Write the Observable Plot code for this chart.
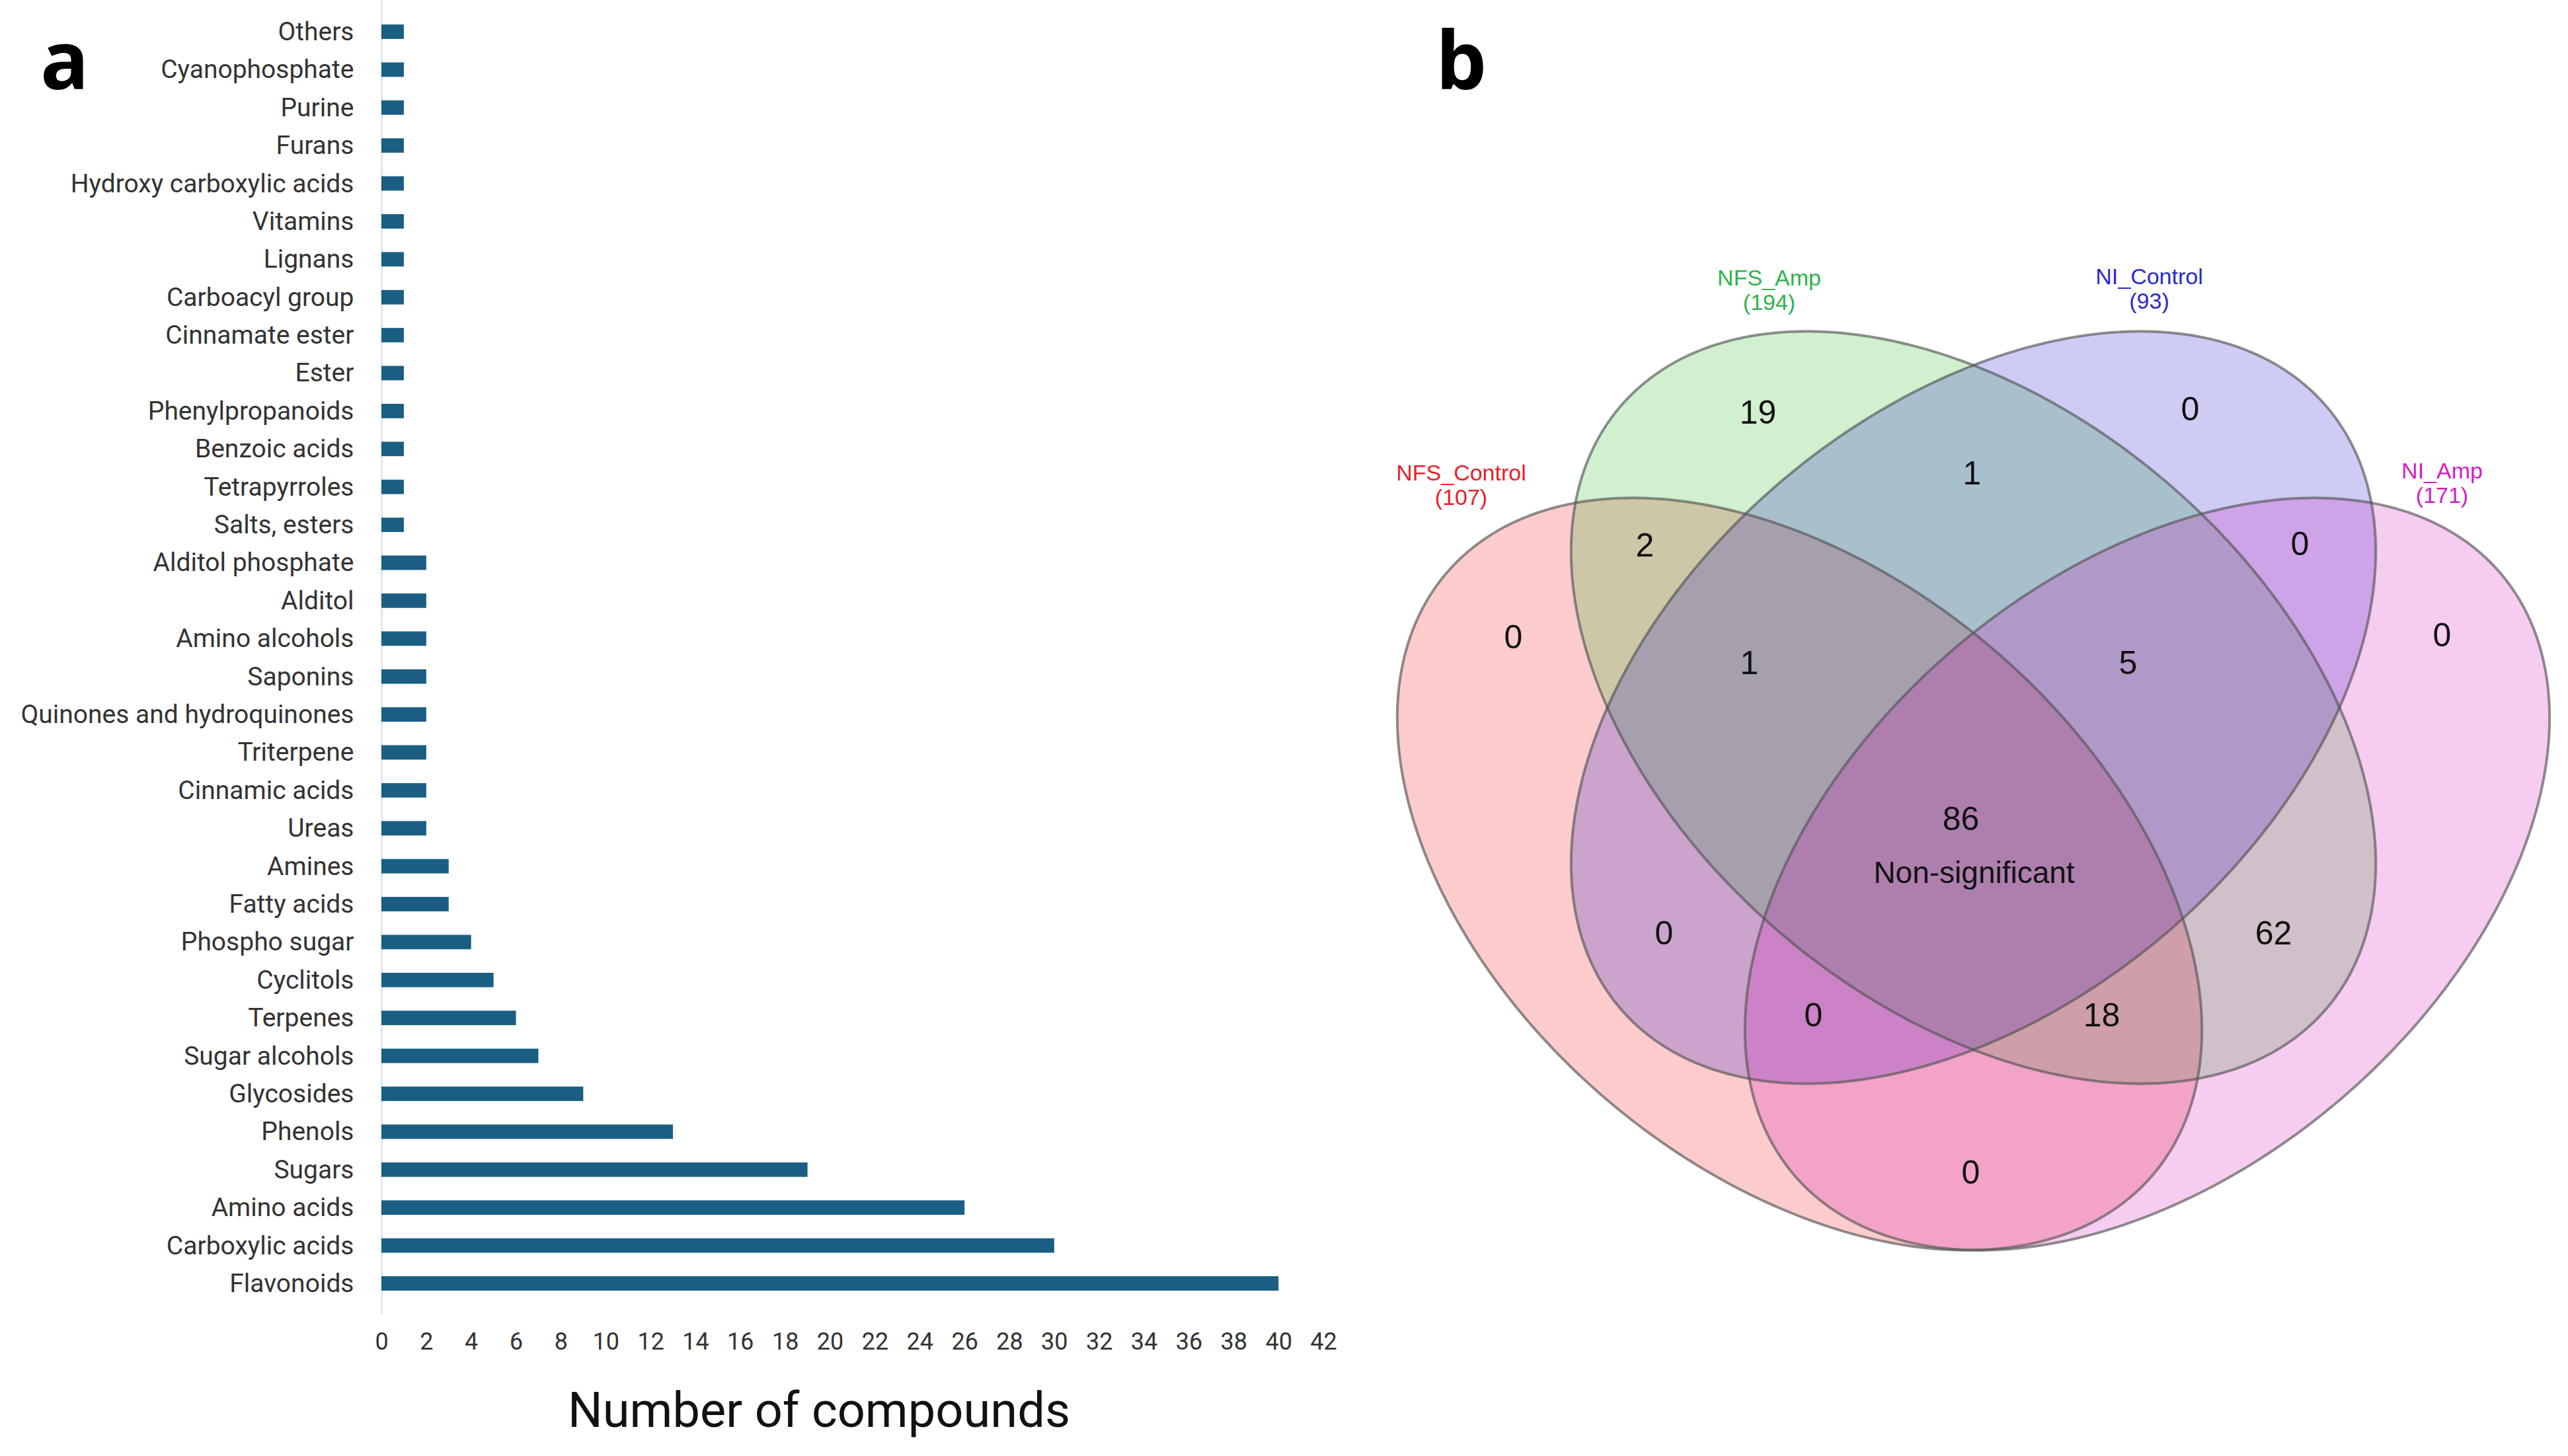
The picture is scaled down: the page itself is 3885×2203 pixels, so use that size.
<!DOCTYPE html>
<html>
<head>
<meta charset="utf-8">
<script src="https://cdn.jsdelivr.net/npm/d3@7"></script>
<script src="https://cdn.jsdelivr.net/npm/@observablehq/plot@0.6"></script>
<style>
  body { margin: 0; background: #fff; }
  #root { position: relative; width: 3885px; height: 2203px; overflow: hidden; background: #fff; font-family: Roboto, sans-serif; }
  .letter { position: absolute; font-family: "Open Sans", Roboto, sans-serif; font-weight: 700; font-size: 122px; line-height: 122px; color: #000; }
  #la { left: 61px; top: 27px; }
  #lb { left: 2172px; top: 27px; }
  #bars, #venn { position: absolute; top: 0; }
  #bars { left: 0; }
  #venn { left: 2050px; }
</style>
</head>
<body>
<div id="root">
  <div id="bars"></div>
  <div id="venn"></div>
  <div class="letter" id="la">a</div>
  <div class="letter" id="lb">b</div>
</div>
<script>
// ---------- Panel a data ----------
const categories = [
  "Others", "Cyanophosphate", "Purine", "Furans", "Hydroxy carboxylic acids", "Vitamins",
  "Lignans", "Carboacyl group", "Cinnamate ester", "Ester", "Phenylpropanoids", "Benzoic acids",
  "Tetrapyrroles", "Salts, esters", "Alditol phosphate", "Alditol", "Amino alcohols", "Saponins",
  "Quinones and hydroquinones", "Triterpene", "Cinnamic acids", "Ureas", "Amines", "Fatty acids",
  "Phospho sugar", "Cyclitols", "Terpenes", "Sugar alcohols", "Glycosides", "Phenols", "Sugars",
  "Amino acids", "Carboxylic acids", "Flavonoids"
];
const counts = [
  1, 1, 1, 1, 1, 1,
  1, 1, 1, 1, 1, 1,
  1, 1, 2, 2, 2, 2,
  2, 2, 2, 2, 3, 3,
  4, 5, 6, 7, 9, 13, 19,
  26, 30, 40
];
const xTicks = [0, 2, 4, 6, 8, 10, 12, 14, 16, 18, 20, 22, 24, 26, 28, 30, 32, 34, 36, 38, 40, 42];
const xLabel = "Number of compounds";

// ---------- Panel b data ----------
const setNames = ["NFS_Control", "NFS_Amp", "NI_Control", "NI_Amp"];
const setTotals = [107, 194, 93, 171];
const setFillColors = ["rgb(242,0,0)", "rgb(20,180,20)", "rgb(10,0,200)", "rgb(210,0,180)"];
const setLabelColors = ["#e8202a", "#2fb34a", "#2b2bc8", "#d21fc4"];
// ellipse geometry (Venn units, y up)
const ellipseCX = [-0.263, 0.0, 0.0, 0.263];
const ellipseCY = [-0.127, 0.125, 0.125, -0.127];
const ellipseA = [0.702, 0.702, 0.702, 0.702];
const ellipseB = [0.449, 0.449, 0.449, 0.449];
const ellipseAngle = [-40.4, -40.4, 40.4, 40.4];
const setLabelX = [-0.775, -0.309, 0.266, 0.709];
const setLabelY = [0.462, 0.757, 0.759, 0.465];

const regionSets = ["1000", "0100", "0010", "0001", "1100", "0110", "0011", "1110", "0111", "1111", "1010", "0101", "1011", "1101", "1001"];
const regionCounts = [0, 19, 0, 0, 2, 1, 0, 1, 5, 86, 0, 62, 0, 18, 0];
const regionX = [-0.696, -0.326, 0.328, 0.709, -0.497, -0.002, 0.494, -0.339, 0.234, -0.019, -0.468, 0.454, -0.242, 0.194, -0.004];
const regionY = [0.231, 0.571, 0.576, 0.234, 0.370, 0.479, 0.372, 0.192, 0.192, -0.044, -0.217, -0.217, -0.341, -0.341, -0.579];
const centerNote = "Non-significant";
const centerNoteX = 0.001, centerNoteY = -0.126;

// ---------- Panel a ----------
const barData = categories.map((c, i) => ({category: c, count: counts[i]}));
const bars = Plot.plot({
  width: 2100,
  height: 2203,
  marginLeft: 577,
  marginRight: 98,
  marginTop: 1.5,
  marginBottom: 214.6,
  style: {fontFamily: "Roboto, sans-serif", color: "#333", background: "transparent", overflow: "visible"},
  x: {domain: [0, 42]},
  y: {domain: categories, padding: 0.62, round: false},
  marks: [
    Plot.ruleX([0], {stroke: "#e2e6ec", strokeWidth: 3}),
    Plot.barX(barData, {x: "count", y: "category", fill: "#1a5e84"}),
    Plot.axisX({ticks: xTicks, tickSize: 0, tickPadding: 28, fontSize: 36, label: null, tickFormat: d => String(d)}),
    Plot.axisY({tickSize: 0, tickPadding: 42, fontSize: 39, label: null}),
    Plot.text([xLabel], {frameAnchor: "bottom", text: d => d, dx: -51, dy: 170, fontSize: 74, fill: "#111"})
  ]
});
document.getElementById("bars").appendChild(bars);

// ---------- Panel b ----------
function ellipsePoints(i) {
  const th = ellipseAngle[i] * Math.PI / 180;
  const pts = [];
  for (let k = 0; k < 360; k++) {
    const t = 2 * Math.PI * k / 360;
    const ca = ellipseA[i] * Math.cos(t), sb = ellipseB[i] * Math.sin(t);
    pts.push({set: setNames[i], x: ellipseCX[i] + ca * Math.cos(th) - sb * Math.sin(th), y: ellipseCY[i] + ca * Math.sin(th) + sb * Math.cos(th)});
  }
  return pts;
}
const ellipses = setNames.map((_, i) => ellipsePoints(i));
const setLabels = setNames.map((n, i) => ({x: setLabelX[i], y: setLabelY[i], text: `${n}\n(${setTotals[i]})`, color: setLabelColors[i]}));
const regions = regionSets.map((s, i) => ({sets: s, x: regionX[i], y: regionY[i], text: String(regionCounts[i])}));

const venn = Plot.plot({
  width: 1835,
  height: 2203,
  margin: 0,
  style: {background: "transparent", overflow: "visible"},
  x: {domain: [-0.935, 0.900], range: [0, 1835], axis: null},
  y: {domain: [-1.008, 1.195], range: [2203, 0], axis: null},
  marks: [
    ...ellipses.map((pts, i) => Plot.line(pts, {x: "x", y: "y", curve: "linear-closed", fill: setFillColors[i], fillOpacity: 0.2, stroke: "none"})),
    ...ellipses.map((pts) => Plot.line(pts, {x: "x", y: "y", curve: "linear-closed", fill: "none", stroke: "#555", strokeOpacity: 0.65, strokeWidth: 4})),
    Plot.text(setLabels, {x: "x", y: "y", text: "text", fill: "color", fontSize: 34, lineHeight: 1.1, fontFamily: "Liberation Sans, Arial, sans-serif"}),
    Plot.text(regions, {x: "x", y: "y", text: "text", fill: "#111", fontSize: 50, fontFamily: "Liberation Sans, Arial, sans-serif"}),
    Plot.text([centerNote], {x: () => centerNoteX, y: () => centerNoteY, text: d => d, fill: "#111", fontSize: 46, fontFamily: "Liberation Sans, Arial, sans-serif"})
  ]
});
document.getElementById("venn").appendChild(venn);
</script>
</body>
</html>
